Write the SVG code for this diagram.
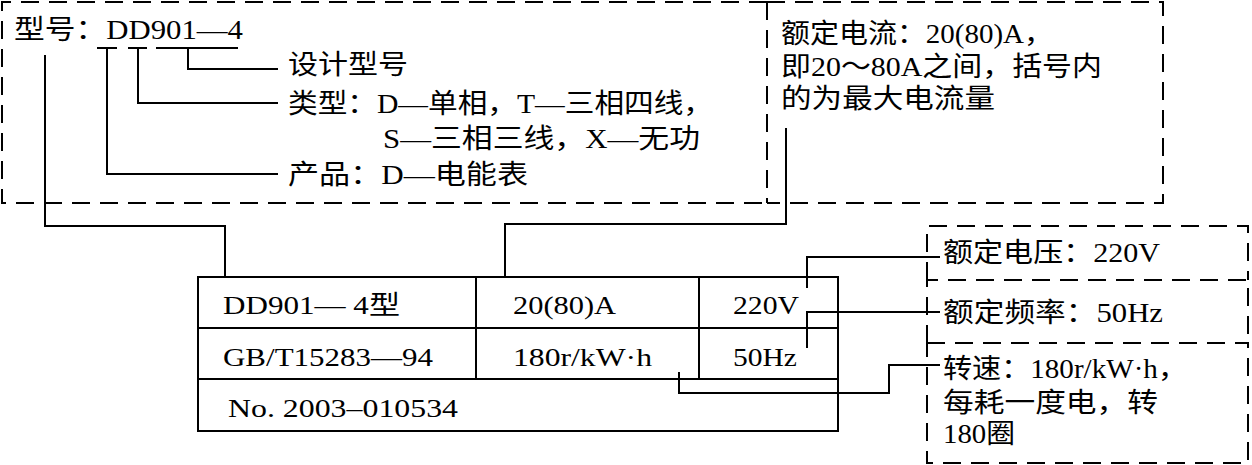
<svg xmlns="http://www.w3.org/2000/svg" width="1252" height="465" viewBox="0 0 1252 465">
<style>
.t{font-family:"Liberation Serif","Noto Sans CJK SC",serif;fill:#000;}
.big{font-size:27px;}
.tbl{font-size:26px;}
.dash{fill:none;stroke:#000;stroke-width:2;stroke-dasharray:18 10;}
.ln{fill:none;stroke:#000;stroke-width:2;}
</style>
<rect width="1252" height="465" fill="#fff"/>
<g id="model-box">
<path class="dash" d="M767,2 H2 V203 H767"/>
<path class="dash" d="M767,2 V203"/>
<text class="t big" x="14" y="39" textLength="229" lengthAdjust="spacingAndGlyphs">型号：DD901—4</text>
<text class="t big" x="288" y="74" textLength="120" lengthAdjust="spacingAndGlyphs">设计型号</text>
<text class="t big" x="288" y="113" textLength="425" lengthAdjust="spacingAndGlyphs">类型：D—单相，T—三相四线，</text>
<text class="t big" x="383" y="148" textLength="317" lengthAdjust="spacingAndGlyphs">S—三相三线，X—无功</text>
<text class="t big" x="288" y="184" textLength="240" lengthAdjust="spacingAndGlyphs">产品：D—电能表</text>
</g>
<g id="current-box">
<path class="dash" d="M767,2 H1163 V203 H767"/>
<text class="t big" x="781" y="43" textLength="272" lengthAdjust="spacingAndGlyphs">额定电流：20(80)A，</text>
<text class="t big" x="781" y="76" textLength="321" lengthAdjust="spacingAndGlyphs">即20～80A之间，括号内</text>
<text class="t big" x="781" y="108" textLength="214" lengthAdjust="spacingAndGlyphs">的为最大电流量</text>
</g>
<g id="nameplate">
<rect class="ln" x="198" y="277" width="640" height="154"/>
<line class="ln" x1="198" y1="328" x2="838" y2="328"/>
<line class="ln" x1="198" y1="379" x2="838" y2="379"/>
<line class="ln" x1="476" y1="277" x2="476" y2="379"/>
<line class="ln" x1="699" y1="277" x2="699" y2="379"/>
<text class="t tbl" x="223" y="314" textLength="177" lengthAdjust="spacingAndGlyphs">DD901— 4型</text>
<text class="t tbl" x="513" y="314" textLength="103" lengthAdjust="spacingAndGlyphs">20(80)A</text>
<text class="t tbl" x="733" y="314" textLength="66" lengthAdjust="spacingAndGlyphs">220V</text>
<text class="t tbl" x="223" y="366" textLength="210" lengthAdjust="spacingAndGlyphs">GB/T15283—94</text>
<text class="t tbl" x="513" y="366" textLength="139" lengthAdjust="spacingAndGlyphs">180r/kW·h</text>
<text class="t tbl" x="733" y="366" textLength="64" lengthAdjust="spacingAndGlyphs">50Hz</text>
<text class="t tbl" x="228" y="417" textLength="230" lengthAdjust="spacingAndGlyphs">No. 2003–010534</text>
</g>
<g id="voltage-box">
<path class="dash" d="M927,280 V226 H1248 V280"/>
<text class="t big" x="943" y="262" textLength="217" lengthAdjust="spacingAndGlyphs">额定电压：220V</text>
</g>
<g id="frequency-box">
<path class="dash" d="M927,343 V280 H1248 V343"/>
<text class="t big" x="943" y="322" textLength="220" lengthAdjust="spacingAndGlyphs">额定频率：50Hz</text>
</g>
<g id="speed-box">
<path class="dash" d="M927,343 H1248 V463 H927 Z"/>
<text class="t big" x="943" y="378" textLength="244" lengthAdjust="spacingAndGlyphs">转速：180r/kW·h，</text>
<text class="t big" x="943" y="412" textLength="215" lengthAdjust="spacingAndGlyphs">每耗一度电，转</text>
<text class="t big" x="943" y="443" textLength="72" lengthAdjust="spacingAndGlyphs">180圈</text>
</g>
<g id="connectors">
<line class="ln" x1="97" y1="48" x2="117" y2="48"/>
<line class="ln" x1="128" y1="48" x2="147" y2="48"/>
<line class="ln" x1="156" y1="48" x2="238" y2="48"/>
<polyline class="ln" points="188,48 188,69 278,69"/>
<polyline class="ln" points="138,48 138,103 278,103"/>
<polyline class="ln" points="107,48 107,174 278,174"/>
<polyline class="ln" points="45,55 45,226 225,226 225,277"/>
<polyline class="ln" points="786,128 786,224 505,224 505,277"/>
<polyline class="ln" points="807,288 807,257 940,257"/>
<polyline class="ln" points="807,348 807,312 940,312"/>
<polyline class="ln" points="679,372 679,393 889,393 889,365 940,365"/>
</g>
</svg>
